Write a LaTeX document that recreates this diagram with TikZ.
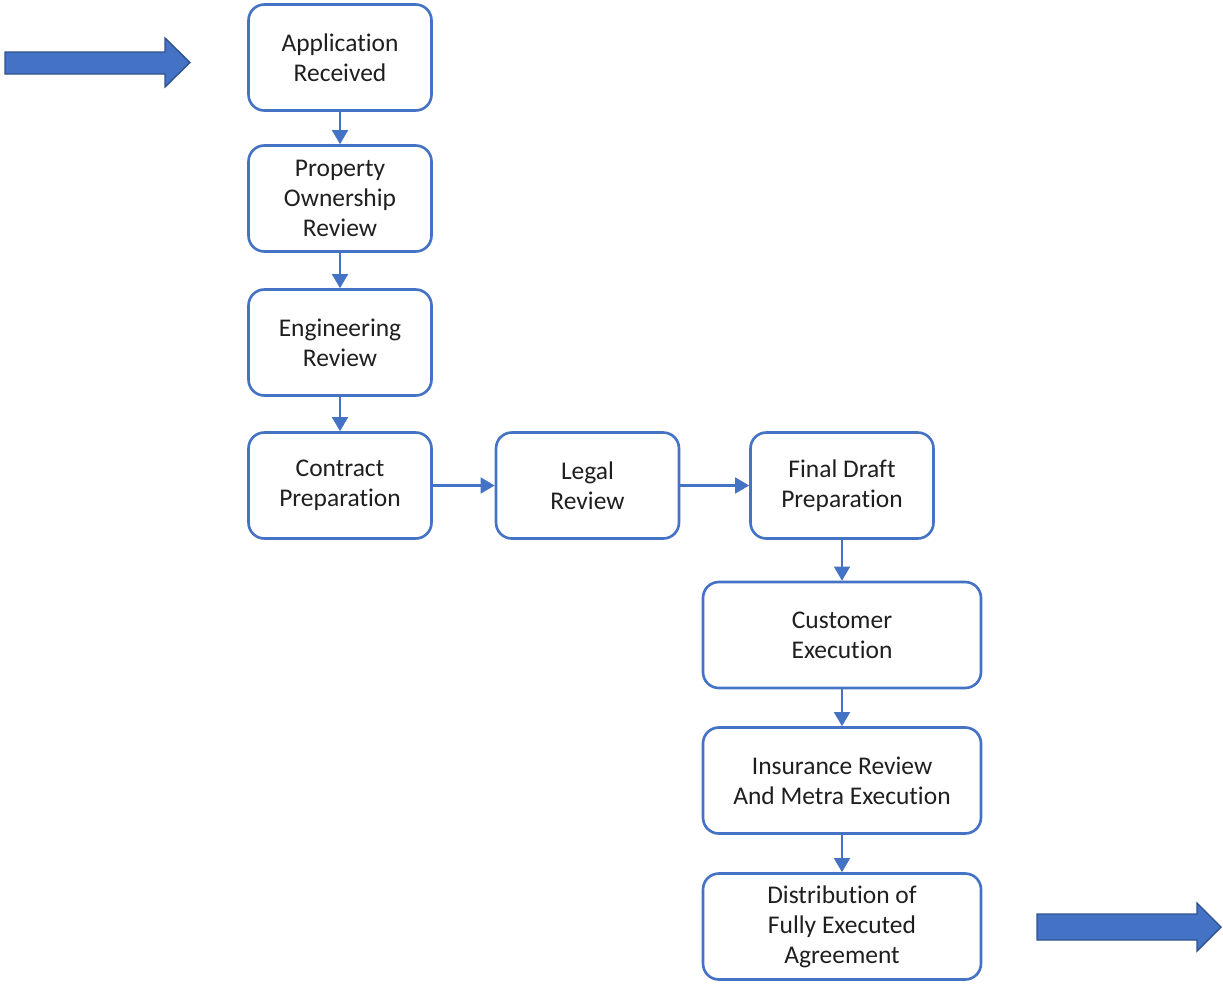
\documentclass[tikz,border=0pt]{standalone}
\usepackage{fontspec}
\setmainfont{Carlito}[Ligatures=NoCommon]
\usepackage{tikz}
\usetikzlibrary{arrows.meta}
\definecolor{boxblue}{HTML}{4472C4}
\definecolor{edgeblue}{HTML}{2F528F}
\definecolor{txtgray}{HTML}{1F1F1F}

\begin{document}
\begin{tikzpicture}[x=0.02cm,y=-0.02cm,
	stepbox/.style={draw=boxblue,line width=1.5pt,rounded corners=9pt,fill=white,align=center,
		text=txtgray,minimum width=3.66cm,minimum height=2.12cm,font=\fontsize{14.5}{17}\selectfont},
	widebox/.style={stepbox,minimum width=5.56cm},
	link/.style={draw=boxblue,line width=1.3pt,-{Triangle[length=8pt,width=9pt]}},
	bigarrow/.style={fill=boxblue,draw=edgeblue,line width=0.8pt}]
	\useasboundingbox (0,0) rectangle (1223,984);

	% left column
	\node[stepbox] (app) at (340,57.5) {Application\\Received};
	\node[stepbox] (own) at (340,198.5) {Property\\Ownership\\Review};
	\node[stepbox] (eng) at (340,342.5) {Engineering\\Review};
	\node[stepbox] (con) at (340,485.5) {Contract\\Preparation};

	% middle row
	\node[stepbox] (leg) at (587.5,485.5) {Legal\\Review};
	\node[stepbox] (fin) at (842,485.5) {Final Draft\\Preparation};

	% right column
	\node[widebox] (cus) at (842,635) {Customer\\Execution};
	\node[widebox] (ins) at (842,780.5) {Insurance Review\\And Metra Execution};
	\node[widebox] (dis) at (842,926.5) {Distribution of\\Fully Executed\\Agreement};

	\draw[link] (app) -- (own);
	\draw[link] (own) -- (eng);
	\draw[link] (eng) -- (con);
	\draw[link] (con) -- (leg);
	\draw[link] (leg) -- (fin);
	\draw[link] (fin) -- (cus);
	\draw[link] (cus) -- (ins);
	\draw[link] (ins) -- (dis);

	% in and out
	\draw[bigarrow] (5,52) -- (165,52) -- (165,38) -- (190,62.5) -- (165,87) -- (165,74) -- (5,74) -- cycle;
	\draw[bigarrow] (1037,914) -- (1197,914) -- (1197,903) -- (1221,927) -- (1197,951) -- (1197,940) -- (1037,940) -- cycle;
\end{tikzpicture}
\end{document}
